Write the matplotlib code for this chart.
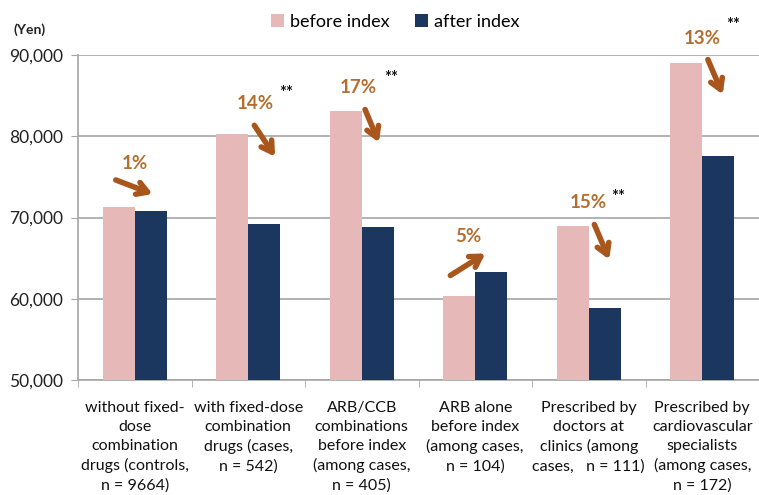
import matplotlib as mpl
from matplotlib import pyplot as plt
import numpy as np

mpl.rcParams['font.family'] = ['Lato', 'DejaVu Sans']

categories = [
    'without fixed-\ndose\ncombination\ndrugs (controls,\nn = 9664)',
    'with fixed-dose\ncombination\ndrugs (cases,\nn = 542)',
    'ARB/CCB\ncombinations\nbefore index\n(among cases,\nn = 405)',
    'ARB alone\nbefore index\n(among cases,\nn = 104)',
    'Prescribed by\ndoctors at\nclinics (among\ncases,   n = 111)',
    'Prescribed by\ncardiovascular\nspecialists\n(among cases,\nn = 172)',
]
before_index = [71300, 80250, 83150, 60300, 68900, 88980]
after_index = [70750, 69260, 68850, 63270, 58850, 77540]
change_labels = ['1%', '14%', '17%', '5%', '15%', '13%']
significant = [False, True, True, False, True, True]
yticks = [50000, 60000, 70000, 80000, 90000]

# annotation layout (data coords): label pos, arrow start, arrow end
label_pos = [(0.0, 76700), (1.06, 83970), (1.97, 85940), (2.94, 67600), (4.0, 71800), (5.0, 91970)]
star_pos = [None, (1.33, 85300), (2.26, 87150), None, (4.26, 72500), (5.27, 93650)]
arrow_from = [(-0.19, 74740), (1.04, 81630), (2.02, 83600), (2.76, 62680), (4.04, 69450), (5.04, 89750)]
arrow_to = [(0.18, 72770), (1.25, 77200), (2.16, 78920), (3.11, 65750), (4.19, 64520), (5.19, 84830)]

PINK = '#E6B9B8'
NAVY = '#1B375F'
BROWN = '#A8561C'
PCT = '#B46E30'
GRID = '#A6A6A6'

fig = plt.figure(figsize=(7.59, 4.95), dpi=100)
ax = fig.add_axes([78 / 759, 115 / 495, 681 / 759, 325 / 495])

x = np.arange(len(categories))
w = 0.28
ax.bar(x - w / 2, before_index, w, color=PINK, label='before index', zorder=3)
ax.bar(x + w / 2, after_index, w, color=NAVY, label='after index', zorder=3)

ax.set_ylim(50000, 90000)
ax.set_xlim(-0.5, -0.5 + 681 / 115)
ax.set_yticks(yticks)
ax.set_yticklabels([f'{v:,}' for v in yticks], fontsize=12.5, color='#222222')
ax.yaxis.grid(True, color=GRID, lw=1.2, zorder=0)
ax.set_xticks(x)
ax.set_xticklabels(categories, fontsize=11.5, linespacing=1.45, color='#111111')
ax.set_xticks(np.arange(len(categories) + 1) - 0.5, minor=True)
ax.tick_params(axis='x', which='major', length=0, pad=15)
ax.tick_params(axis='x', which='minor', length=5, color=GRID, direction='out')
ax.tick_params(axis='y', length=5, color=GRID, pad=6)
for s in ['top', 'right']:
    ax.spines[s].set_visible(False)
for s in ['left', 'bottom']:
    ax.spines[s].set_color(GRID)
    ax.spines[s].set_linewidth(1.2)

for i in range(len(categories)):
    ax.annotate('', xy=arrow_to[i], xytext=arrow_from[i],
                arrowprops=dict(arrowstyle='->,head_length=0.75,head_width=0.45',
                                color=BROWN, lw=4),
                zorder=5, annotation_clip=False)
    ax.text(*label_pos[i], change_labels[i], ha='center', va='center',
            fontsize=13.5, fontweight='bold', color=PCT, zorder=5, clip_on=False)
    if significant[i]:
        ax.text(*star_pos[i], '**', ha='center', va='center',
                fontsize=12, fontweight='bold', color='#111111', clip_on=False)

fig.text(30 / 759, 1 - 30 / 495, '(Yen)', ha='center', va='center',
         fontsize=10, fontweight='bold', color='#222222')

fig.legend(loc='center', bbox_to_anchor=(395 / 759, 1 - 22 / 495), ncol=2,
           frameon=False, fontsize=13, handlelength=0.75, handleheight=0.75,
           handletextpad=0.3, columnspacing=1.4)

plt.savefig('out.png', dpi=100)
